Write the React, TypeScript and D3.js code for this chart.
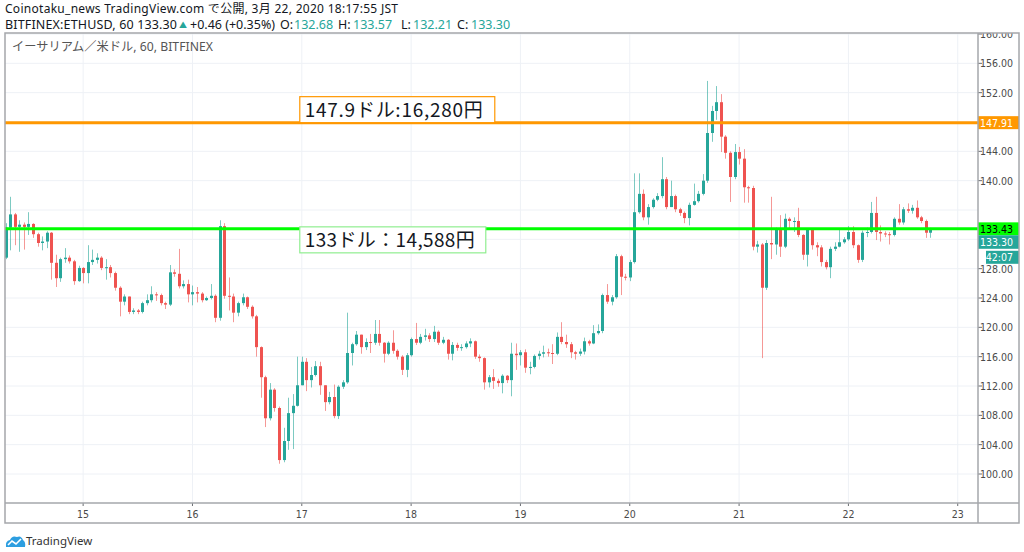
import React from 'react';
import * as d3 from 'd3';

// hourly ETH/USD candles, 14 Mar 07:00 -> 22 Mar 18:00 (JST, kept as UTC clock)
const startTime = Date.UTC(2020, 2, 14, 7);
const firstOpen = 129.5;

const closes = [
  133.6, 135.4, 133.7, 134.0, 133.7, 134.1, 132.7, 131.5, 131.7, 132.9,
  128.8, 126.7, 129.3, 129.5, 129.0, 126.3, 128.1, 127.4, 128.9, 129.2,
  129.5, 128.1, 128.2, 127.4, 125.4, 123.5, 124.2, 122.1, 122.3, 122.1,
  123.3, 123.7, 124.5, 124.4, 123.3, 123.1, 127.5, 127.3, 125.6, 125.9,
  124.5, 124.8, 124.6, 123.7, 124.0, 124.3, 121.3, 133.8, 124.3, 124.2,
  122.0, 123.3, 124.1, 122.8, 121.5, 117.3, 113.2, 107.6, 111.5, 109.0,
  101.9, 104.5, 108.3, 109.3, 112.1, 115.3, 112.8, 113.5, 114.7, 112.1,
  109.8, 110.5, 107.9, 111.9, 112.5, 116.5, 117.7, 119.0, 117.3, 118.0,
  117.9, 119.1, 117.9, 116.4, 117.9, 116.8, 116.0, 114.2, 116.2, 118.4,
  117.9, 118.7, 118.9, 118.4, 119.4, 117.9, 118.3, 116.4, 117.6, 117.2,
  117.3, 117.8, 118.1, 116.0, 115.8, 112.5, 113.2, 112.7, 112.4, 113.4,
  112.8, 116.4, 116.2, 116.6, 114.5, 114.6, 116.1, 116.4, 116.6, 116.5,
  116.4, 118.7, 118.0, 117.7, 116.6, 116.4, 116.7, 118.1, 117.8, 119.2,
  119.5, 124.4, 123.5, 124.1, 129.7, 126.9, 126.8, 128.9, 135.7, 138.2,
  135.0, 136.4, 137.4, 137.9, 140.2, 136.4, 137.9, 136.1, 135.6, 134.9,
  136.7, 137.2, 138.2, 140.0, 146.5, 149.5, 150.7, 146.0, 143.8, 140.5,
  143.9, 143.0, 139.1, 139.0, 131.0, 131.3, 125.4, 131.5, 131.3, 133.3,
  131.0, 134.8, 134.5, 134.5, 132.6, 129.9, 133.3, 131.2, 130.9, 128.9,
  128.2, 130.7, 131.0, 131.6, 132.0, 133.0, 131.2, 129.2, 132.9, 133.0,
  135.6, 133.0, 132.8, 132.7, 132.6, 134.8, 134.3, 136.1, 135.9, 136.3,
  135.0, 134.5, 132.9, 133.3,
];

const highs = [
  134.2, 137.8, 135.6, 134.6, 134.3, 135.7, 134.2, 132.9, 132.4, 133.1,
  133.0, 129.9, 129.5, 130.8, 129.8, 129.2, 128.4, 128.2, 131.2, 130.6,
  130.1, 129.7, 129.3, 128.5, 127.6, 125.6, 124.5, 124.2, 122.6, 122.5,
  123.5, 124.5, 125.6, 124.8, 124.6, 123.5, 128.5, 127.9, 130.7, 126.4,
  126.5, 125.7, 125.5, 124.8, 124.2, 125.9, 124.5, 134.6, 134.2, 126.8,
  124.6, 123.5, 124.6, 124.2, 123.0, 121.7, 117.4, 113.4, 112.4, 111.7,
  109.2, 106.3, 110.4, 110.9, 116.0, 116.0, 115.8, 114.6, 115.4, 115.3,
  112.0, 111.2, 112.2, 112.1, 112.8, 122.0, 117.9, 119.5, 118.8, 118.5,
  119.1, 121.0, 121.0, 118.0, 118.1, 119.6, 117.0, 116.2, 116.5, 118.6,
  120.6, 119.1, 119.8, 119.2, 120.2, 119.6, 118.7, 118.4, 118.0, 117.9,
  117.7, 118.1, 118.5, 118.2, 116.3, 115.9, 113.5, 114.3, 113.0, 113.6,
  113.5, 117.9, 117.8, 116.9, 117.0, 115.3, 116.3, 116.8, 117.5, 117.1,
  117.7, 119.3, 120.7, 119.0, 118.0, 116.8, 117.1, 118.6, 118.3, 120.3,
  120.4, 124.6, 125.9, 124.4, 130.0, 129.9, 127.3, 129.2, 141.0, 141.0,
  138.8, 136.8, 137.6, 138.3, 143.2, 140.5, 140.0, 138.1, 136.3, 135.8,
  137.0, 139.6, 138.6, 140.9, 153.6, 150.2, 152.9, 151.8, 146.2, 144.0,
  145.0, 144.6, 144.3, 139.3, 139.3, 131.8, 131.5, 131.9, 137.8, 133.6,
  135.3, 135.5, 135.0, 135.0, 136.3, 132.7, 133.5, 133.5, 131.6, 131.2,
  129.2, 131.0, 131.6, 133.3, 132.3, 133.8, 133.8, 131.3, 133.2, 133.6,
  137.1, 137.8, 133.9, 133.1, 133.0, 135.0, 136.8, 136.4, 136.9, 136.7,
  137.3, 135.2, 134.7, 133.57,
];

const lows = [
  129.3, 130.5, 131.2, 130.3, 130.6, 132.6, 132.2, 131.0, 130.5, 130.8,
  126.5, 125.5, 126.2, 128.8, 128.7, 125.8, 126.2, 126.0, 126.0, 128.5,
  128.7, 127.8, 126.5, 126.8, 125.0, 121.5, 123.0, 121.8, 121.8, 121.8,
  121.9, 123.0, 123.4, 123.6, 123.0, 122.5, 122.9, 126.9, 125.3, 125.3,
  123.4, 123.0, 123.4, 123.4, 123.6, 123.8, 120.7, 120.9, 123.9, 122.3,
  120.7, 121.5, 123.0, 122.5, 121.2, 116.0, 110.4, 106.4, 107.3, 108.5,
  101.4, 101.6, 103.3, 103.4, 109.2, 112.2, 111.3, 111.8, 113.3, 110.8,
  108.6, 109.5, 107.6, 107.5, 111.6, 112.3, 114.8, 117.5, 116.4, 116.9,
  116.5, 117.6, 117.5, 115.2, 116.2, 116.4, 115.6, 113.5, 113.2, 116.0,
  117.6, 117.7, 118.2, 118.0, 118.0, 117.6, 117.7, 115.6, 115.5, 116.8,
  116.8, 117.1, 117.3, 115.7, 115.3, 111.5, 111.8, 111.6, 111.9, 111.0,
  112.4, 110.6, 114.2, 114.8, 113.8, 113.6, 114.4, 115.6, 115.9, 116.0,
  115.0, 116.2, 117.7, 117.2, 115.8, 115.6, 116.1, 116.3, 117.5, 117.7,
  119.0, 119.2, 123.2, 123.0, 123.9, 124.4, 126.4, 126.3, 128.7, 135.5,
  134.6, 134.0, 136.2, 137.2, 137.6, 136.1, 136.4, 135.7, 135.2, 134.2,
  133.9, 136.6, 137.0, 138.0, 139.7, 145.3, 148.3, 143.9, 143.0, 137.1,
  140.2, 142.2, 137.0, 137.0, 130.5, 130.2, 115.8, 125.1, 129.3, 129.9,
  129.6, 130.8, 133.3, 133.0, 132.3, 129.2, 128.3, 130.6, 129.7, 128.3,
  127.9, 126.7, 130.4, 130.9, 131.4, 131.8, 130.8, 128.8, 128.9, 132.3,
  132.8, 131.9, 131.7, 132.3, 131.3, 132.4, 134.0, 134.0, 135.6, 135.5,
  134.8, 134.2, 132.2, 132.21,
];

const priceTicks = [100, 104, 108, 112, 116, 120, 124, 128, 132, 136, 140, 144, 148, 152, 156, 160];
const dayTicks = [15, 16, 17, 18, 19, 20, 21, 22, 23];

const lineLevels = [
  { price: 147.91, color: '#ff9800', text: '147.9ドル:16,280円', boxStroke: '#ff9800', labelText: '#ffffff' },
  { price: 133.43, color: '#00ff00', text: '133ドル：14,588円', boxStroke: '#90ee90', labelText: '#000000' },
];
const lastPrice = 133.3;
const countdown = '42:07';

// symbol line pieces (teal = value)
const quoteParts = [
  { t: 'BITFINEX:ETHUSD, 60 133.30', x: 5, teal: false },
  { t: '▲', x: 179, teal: true },
  { t: '+0.46 (+0.35%)', x: 190, teal: false },
  { t: 'O:', x: 280, teal: false },
  { t: '132.68', x: 294, teal: true },
  { t: 'H:', x: 338, teal: false },
  { t: '133.57', x: 353, teal: true },
  { t: 'L:', x: 401, teal: false },
  { t: '132.21', x: 413, teal: true },
  { t: 'C:', x: 457, teal: false },
  { t: '133.30', x: 471, teal: true },
];

const UP = '#26a69a';
const DOWN = '#ef5350';
const GRID = '#eef1f6';
const FRAME = '#a5a7ab';
const AXIS_FONT = "'DejaVu Sans Condensed', 'Liberation Sans Narrow', 'Roboto', sans-serif";

const left = 5;
const right = 978;
const top = 33;
const bottom = 503;
const axisBottom = 523;
const edge = 1019;

const App = () => {
  const hour = 3600 * 1000;
  const times = closes.map((_, i) => new Date(startTime + i * hour));
  const x = d3
    .scaleUtc()
    .domain([times[0], times[times.length - 1]])
    .range([5.7, 930.4]);
  const y = d3.scaleLinear().domain([100, 160]).range([474, 34]);
  const opens = closes.map((c, i) => (i === 0 ? firstOpen : closes[i - 1]));
  const bodyW = 3;

  const dayX = dayTicks.map((d) => ({ d, px: x(new Date(Date.UTC(2020, 2, d))) }));
  const annoX = x(new Date(Date.UTC(2020, 2, 17))) - 2;

  const hidden = (p: number) => Math.abs(y(p) - y(147.91)) < 12 || Math.abs(y(p) - y(133.43)) < 26;

  return (
    <svg
      width={1024}
      height={552}
      style={{ position: 'absolute', left: 0, top: 0, background: '#fff' }}
      fontFamily="'Noto Sans', 'Noto Sans CJK JP', sans-serif"
    >
      <defs>
        <clipPath id="plot">
          <rect x={left} y={top} width={right - left} height={bottom - top} />
        </clipPath>
        <clipPath id="axis">
          <rect x={right} y={top} width={edge - right} height={bottom - top} />
        </clipPath>
      </defs>

      {/* header */}
      <text x={5} y={12.5} fontSize={12} fill="#131722" textLength={393} lengthAdjust="spacing">
        Coinotaku_news TradingView.com で公開, 3月 22, 2020 18:17:55 JST
      </text>
      <g>
        {quoteParts.map((p) => (
          <text
            key={p.x}
            x={p.x}
            y={p.t === '▲' ? 27.5 : 29}
            fontSize={p.t === '▲' ? 8 : 12.5}
            fill={p.teal ? UP : '#131722'}
            textLength={p.x === 5 ? 172 : undefined}
            lengthAdjust="spacing"
          >
            {p.t}
          </text>
        ))}
      </g>

      {/* grid */}
      <g clipPath="url(#plot)">
        {priceTicks.map((p) => (
          <line key={p} x1={left} x2={right} y1={y(p)} y2={y(p)} stroke={GRID} />
        ))}
        {dayX.map(({ d, px }) => (
          <line key={d} x1={px} x2={px} y1={top} y2={bottom} stroke={GRID} />
        ))}
      </g>

      <text x={12} y={51} fontSize={12.2} fill="#555" textLength={201} lengthAdjust="spacing">
        イーサリアム／米ドル, 60, BITFINEX
      </text>

      {/* candles */}
      <g clipPath="url(#plot)">
        {closes.map((c, i) => {
          const o = opens[i];
          const up = c >= o;
          const col = up ? UP : DOWN;
          const cx = Math.round(x(times[i])) + 0.5;
          const hi = Math.max(highs[i], o, c);
          const lo = Math.min(lows[i], o, c);
          const yTop = y(Math.max(o, c));
          const yBot = y(Math.min(o, c));
          return (
            <g key={i}>
              <line x1={cx} x2={cx} y1={y(hi)} y2={y(lo)} stroke={col} strokeOpacity={0.6} />
              <rect
                x={cx - bodyW / 2}
                y={yTop}
                width={bodyW}
                height={Math.max(1, yBot - yTop)}
                fill={col}
              />
            </g>
          );
        })}
      </g>

      {/* horizontal levels */}
      <g clipPath="url(#plot)">
        {lineLevels.map((l) => (
          <line key={l.price} x1={left} x2={right} y1={y(l.price)} y2={y(l.price)} stroke={l.color} strokeWidth={3} />
        ))}
      </g>

      {/* annotation boxes */}
      <g fontFamily="'Noto Sans CJK JP', sans-serif" fontSize={19} fill="#131722">
        <rect x={annoX} y={y(147.91) - 26} width={195} height={26} fill="#fff" stroke={lineLevels[0].boxStroke} strokeWidth={1.2} />
        <text x={annoX + 5} y={y(147.91) - 6} textLength={178} lengthAdjust="spacing">
          {lineLevels[0].text}
        </text>
        <rect x={annoX} y={y(133.43) - 2} width={186} height={26} fill="#fff" stroke={lineLevels[1].boxStroke} strokeWidth={1.2} />
        <text x={annoX + 5} y={y(133.43) + 18} textLength={170} lengthAdjust="spacing">
          {lineLevels[1].text}
        </text>
      </g>

      {/* price axis */}
      <g clipPath="url(#axis)" fontSize={10.5} fill="#4a4a4a" fontFamily={AXIS_FONT}>
        {priceTicks
          .filter((p) => !hidden(p))
          .map((p) => (
            <g key={p}>
              <line x1={right} x2={right + 4} y1={y(p)} y2={y(p)} stroke="#6a6d72" />
              <text x={1013} y={y(p) + 4} textAnchor="end" fill="#4a4a4a">
                {p.toFixed(2)}
              </text>
            </g>
          ))}
        {lineLevels.map((l) => (
          <g key={l.price}>
            <rect x={right} y={y(l.price) - 6.5} width={edge - right} height={13} fill={l.color} />
            <text x={1013} y={y(l.price) + 4} textAnchor="end" fill={l.labelText}>
              {l.price.toFixed(2)}
            </text>
          </g>
        ))}
        <rect x={right} y={y(lastPrice) + 5.5} width={edge - right} height={13.5} fill={UP} />
        <text x={1013} y={y(lastPrice) + 16} textAnchor="end" fill="#fff">
          {lastPrice.toFixed(2)}
        </text>
        <rect x={986} y={y(lastPrice) + 21} width={edge - 986} height={13} fill={UP} />
        <text x={1013} y={y(lastPrice) + 31} textAnchor="end" fill="#fff">
          {countdown}
        </text>
      </g>

      {/* time axis */}
      <g fontSize={10.5} fill="#4a4a4a" fontFamily={AXIS_FONT}>
        {dayX.map(({ d, px }) => (
          <g key={d}>
            <line x1={px} x2={px} y1={bottom} y2={bottom + 3} stroke="#6a6d72" />
            <text x={px} y={bottom + 15} textAnchor="middle">
              {d3.format('d')(d)}
            </text>
          </g>
        ))}
      </g>

      {/* frame */}
      <rect x={left} y={top} width={edge - left} height={axisBottom - top} fill="none" stroke={FRAME} strokeWidth={1.5} />
      <line x1={right} x2={right} y1={top} y2={axisBottom} stroke={FRAME} strokeWidth={1.5} />
      <line x1={left} x2={edge} y1={bottom} y2={bottom} stroke={FRAME} strokeWidth={1.5} />

      {/* footer logo */}
      <g transform="translate(5,535)">
        <path d="M1 12 Q0 6 5 5 Q7 0 12 2 Q16 0 18 5 Q21 7 20 12 Z" fill="#2d9ee0" />
        <path d="M3 10 L7 6 L11 9 L16 4" fill="none" stroke="#fff" strokeWidth={1.6} />
      </g>
      <text x={26} y={545} fontSize={11.5} fill="#333">
        TradingView
      </text>
    </svg>
  );
};

export default App;
